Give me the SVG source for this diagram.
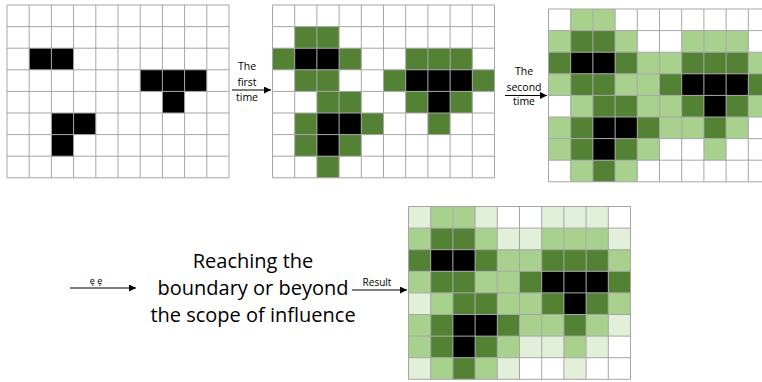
<svg xmlns="http://www.w3.org/2000/svg" width="762" height="382" viewBox="0 0 762 382">
<style>
.b{fill:#000}
.d{fill:#548235}
.l{fill:#a9d18e}
.v{fill:#e2efd9}
.grid{fill:none;stroke:#a6a6a6;stroke-width:1}
.bg{fill:#fff}
.lbl{font-family:"Open Sans","Liberation Sans",sans-serif;font-size:10.5px;fill:#000;text-anchor:middle}
.big{font-family:"Open Sans","Liberation Sans",sans-serif;font-size:20px;fill:#000;text-anchor:middle}
.con{stroke:#000;stroke-width:1.2;fill:none;marker-end:url(#ah)}
</style>
<defs>
<marker id="ah" viewBox="0 0 10 10" refX="10" refY="5" markerWidth="7" markerHeight="7" orient="auto" markerUnits="userSpaceOnUse">
<path d="M0,0 L10,5 L0,10 z" fill="#000"/>
</marker>
<path id="gl" d="M0,0H222M0,21.6H222M0,43.2H222M0,64.8H222M0,86.4H222M0,108H222M0,129.6H222M0,151.2H222M0,172.8H222M0,0V172.8M22.2,0V172.8M44.4,0V172.8M66.6,0V172.8M88.8,0V172.8M111,0V172.8M133.2,0V172.8M155.4,0V172.8M177.6,0V172.8M199.8,0V172.8M222,0V172.8"/>
</defs>
<rect width="762" height="382" fill="#fff"/>

<g id="grid1" transform="translate(7,5)">
<rect class="bg" width="222" height="172.8"/>
<rect class="b" x="22.2" y="43.2" width="22.2" height="21.6"/>
<rect class="b" x="44.4" y="43.2" width="22.2" height="21.6"/>
<rect class="b" x="133.2" y="64.8" width="22.2" height="21.6"/>
<rect class="b" x="155.4" y="64.8" width="22.2" height="21.6"/>
<rect class="b" x="177.6" y="64.8" width="22.2" height="21.6"/>
<rect class="b" x="155.4" y="86.4" width="22.2" height="21.6"/>
<rect class="b" x="44.4" y="108" width="22.2" height="21.6"/>
<rect class="b" x="66.6" y="108" width="22.2" height="21.6"/>
<rect class="b" x="44.4" y="129.6" width="22.2" height="21.6"/>
<use href="#gl" class="grid"/>
</g>

<g id="grid2" transform="translate(272.5,5)">
<rect class="bg" width="222" height="172.8"/>
<rect class="d" x="22.2" y="21.6" width="22.2" height="21.6"/>
<rect class="d" x="44.4" y="21.6" width="22.2" height="21.6"/>
<rect class="d" x="0" y="43.2" width="22.2" height="21.6"/>
<rect class="b" x="22.2" y="43.2" width="22.2" height="21.6"/>
<rect class="b" x="44.4" y="43.2" width="22.2" height="21.6"/>
<rect class="d" x="66.6" y="43.2" width="22.2" height="21.6"/>
<rect class="d" x="133.2" y="43.2" width="22.2" height="21.6"/>
<rect class="d" x="155.4" y="43.2" width="22.2" height="21.6"/>
<rect class="d" x="177.6" y="43.2" width="22.2" height="21.6"/>
<rect class="d" x="22.2" y="64.8" width="22.2" height="21.6"/>
<rect class="d" x="44.4" y="64.8" width="22.2" height="21.6"/>
<rect class="d" x="111" y="64.8" width="22.2" height="21.6"/>
<rect class="b" x="133.2" y="64.8" width="22.2" height="21.6"/>
<rect class="b" x="155.4" y="64.8" width="22.2" height="21.6"/>
<rect class="b" x="177.6" y="64.8" width="22.2" height="21.6"/>
<rect class="d" x="199.8" y="64.8" width="22.2" height="21.6"/>
<rect class="d" x="44.4" y="86.4" width="22.2" height="21.6"/>
<rect class="d" x="66.6" y="86.4" width="22.2" height="21.6"/>
<rect class="d" x="133.2" y="86.4" width="22.2" height="21.6"/>
<rect class="b" x="155.4" y="86.4" width="22.2" height="21.6"/>
<rect class="d" x="177.6" y="86.4" width="22.2" height="21.6"/>
<rect class="d" x="22.2" y="108" width="22.2" height="21.6"/>
<rect class="b" x="44.4" y="108" width="22.2" height="21.6"/>
<rect class="b" x="66.6" y="108" width="22.2" height="21.6"/>
<rect class="d" x="88.8" y="108" width="22.2" height="21.6"/>
<rect class="d" x="155.4" y="108" width="22.2" height="21.6"/>
<rect class="d" x="22.2" y="129.6" width="22.2" height="21.6"/>
<rect class="b" x="44.4" y="129.6" width="22.2" height="21.6"/>
<rect class="d" x="66.6" y="129.6" width="22.2" height="21.6"/>
<rect class="d" x="44.4" y="151.2" width="22.2" height="21.6"/>
<use href="#gl" class="grid"/>
</g>

<g id="grid3" transform="translate(548.5,9)">
<rect class="bg" width="222" height="172.8"/>
<rect class="l" x="22.2" y="0" width="22.2" height="21.6"/>
<rect class="l" x="44.4" y="0" width="22.2" height="21.6"/>
<rect class="l" x="0" y="21.6" width="22.2" height="21.6"/>
<rect class="d" x="22.2" y="21.6" width="22.2" height="21.6"/>
<rect class="d" x="44.4" y="21.6" width="22.2" height="21.6"/>
<rect class="l" x="66.6" y="21.6" width="22.2" height="21.6"/>
<rect class="l" x="133.2" y="21.6" width="22.2" height="21.6"/>
<rect class="l" x="155.4" y="21.6" width="22.2" height="21.6"/>
<rect class="l" x="177.6" y="21.6" width="22.2" height="21.6"/>
<rect class="d" x="0" y="43.2" width="22.2" height="21.6"/>
<rect class="b" x="22.2" y="43.2" width="22.2" height="21.6"/>
<rect class="b" x="44.4" y="43.2" width="22.2" height="21.6"/>
<rect class="d" x="66.6" y="43.2" width="22.2" height="21.6"/>
<rect class="l" x="88.8" y="43.2" width="22.2" height="21.6"/>
<rect class="l" x="111" y="43.2" width="22.2" height="21.6"/>
<rect class="d" x="133.2" y="43.2" width="22.2" height="21.6"/>
<rect class="d" x="155.4" y="43.2" width="22.2" height="21.6"/>
<rect class="d" x="177.6" y="43.2" width="22.2" height="21.6"/>
<rect class="l" x="199.8" y="43.2" width="22.2" height="21.6"/>
<rect class="l" x="0" y="64.8" width="22.2" height="21.6"/>
<rect class="d" x="22.2" y="64.8" width="22.2" height="21.6"/>
<rect class="d" x="44.4" y="64.8" width="22.2" height="21.6"/>
<rect class="l" x="66.6" y="64.8" width="22.2" height="21.6"/>
<rect class="l" x="88.8" y="64.8" width="22.2" height="21.6"/>
<rect class="d" x="111" y="64.8" width="22.2" height="21.6"/>
<rect class="b" x="133.2" y="64.8" width="22.2" height="21.6"/>
<rect class="b" x="155.4" y="64.8" width="22.2" height="21.6"/>
<rect class="b" x="177.6" y="64.8" width="22.2" height="21.6"/>
<rect class="d" x="199.8" y="64.8" width="22.2" height="21.6"/>
<rect class="l" x="22.2" y="86.4" width="22.2" height="21.6"/>
<rect class="d" x="44.4" y="86.4" width="22.2" height="21.6"/>
<rect class="d" x="66.6" y="86.4" width="22.2" height="21.6"/>
<rect class="l" x="88.8" y="86.4" width="22.2" height="21.6"/>
<rect class="l" x="111" y="86.4" width="22.2" height="21.6"/>
<rect class="d" x="133.2" y="86.4" width="22.2" height="21.6"/>
<rect class="b" x="155.4" y="86.4" width="22.2" height="21.6"/>
<rect class="d" x="177.6" y="86.4" width="22.2" height="21.6"/>
<rect class="l" x="199.8" y="86.4" width="22.2" height="21.6"/>
<rect class="l" x="0" y="108" width="22.2" height="21.6"/>
<rect class="d" x="22.2" y="108" width="22.2" height="21.6"/>
<rect class="b" x="44.4" y="108" width="22.2" height="21.6"/>
<rect class="b" x="66.6" y="108" width="22.2" height="21.6"/>
<rect class="d" x="88.8" y="108" width="22.2" height="21.6"/>
<rect class="l" x="111" y="108" width="22.2" height="21.6"/>
<rect class="l" x="133.2" y="108" width="22.2" height="21.6"/>
<rect class="d" x="155.4" y="108" width="22.2" height="21.6"/>
<rect class="l" x="177.6" y="108" width="22.2" height="21.6"/>
<rect class="l" x="0" y="129.6" width="22.2" height="21.6"/>
<rect class="d" x="22.2" y="129.6" width="22.2" height="21.6"/>
<rect class="b" x="44.4" y="129.6" width="22.2" height="21.6"/>
<rect class="d" x="66.6" y="129.6" width="22.2" height="21.6"/>
<rect class="l" x="88.8" y="129.6" width="22.2" height="21.6"/>
<rect class="l" x="155.4" y="129.6" width="22.2" height="21.6"/>
<rect class="l" x="22.2" y="151.2" width="22.2" height="21.6"/>
<rect class="d" x="44.4" y="151.2" width="22.2" height="21.6"/>
<rect class="l" x="66.6" y="151.2" width="22.2" height="21.6"/>
<use href="#gl" class="grid"/>
</g>

<g id="grid4" transform="translate(408.5,206.5)">
<rect class="bg" width="222" height="172.8"/>
<rect class="v" x="0" y="0" width="22.2" height="21.6"/>
<rect class="l" x="22.2" y="0" width="22.2" height="21.6"/>
<rect class="l" x="44.4" y="0" width="22.2" height="21.6"/>
<rect class="v" x="66.6" y="0" width="22.2" height="21.6"/>
<rect class="v" x="133.2" y="0" width="22.2" height="21.6"/>
<rect class="v" x="155.4" y="0" width="22.2" height="21.6"/>
<rect class="v" x="177.6" y="0" width="22.2" height="21.6"/>
<rect class="l" x="0" y="21.6" width="22.2" height="21.6"/>
<rect class="d" x="22.2" y="21.6" width="22.2" height="21.6"/>
<rect class="d" x="44.4" y="21.6" width="22.2" height="21.6"/>
<rect class="l" x="66.6" y="21.6" width="22.2" height="21.6"/>
<rect class="v" x="88.8" y="21.6" width="22.2" height="21.6"/>
<rect class="v" x="111" y="21.6" width="22.2" height="21.6"/>
<rect class="l" x="133.2" y="21.6" width="22.2" height="21.6"/>
<rect class="l" x="155.4" y="21.6" width="22.2" height="21.6"/>
<rect class="l" x="177.6" y="21.6" width="22.2" height="21.6"/>
<rect class="v" x="199.8" y="21.6" width="22.2" height="21.6"/>
<rect class="d" x="0" y="43.2" width="22.2" height="21.6"/>
<rect class="b" x="22.2" y="43.2" width="22.2" height="21.6"/>
<rect class="b" x="44.4" y="43.2" width="22.2" height="21.6"/>
<rect class="d" x="66.6" y="43.2" width="22.2" height="21.6"/>
<rect class="l" x="88.8" y="43.2" width="22.2" height="21.6"/>
<rect class="l" x="111" y="43.2" width="22.2" height="21.6"/>
<rect class="d" x="133.2" y="43.2" width="22.2" height="21.6"/>
<rect class="d" x="155.4" y="43.2" width="22.2" height="21.6"/>
<rect class="d" x="177.6" y="43.2" width="22.2" height="21.6"/>
<rect class="l" x="199.8" y="43.2" width="22.2" height="21.6"/>
<rect class="l" x="0" y="64.8" width="22.2" height="21.6"/>
<rect class="d" x="22.2" y="64.8" width="22.2" height="21.6"/>
<rect class="d" x="44.4" y="64.8" width="22.2" height="21.6"/>
<rect class="l" x="66.6" y="64.8" width="22.2" height="21.6"/>
<rect class="l" x="88.8" y="64.8" width="22.2" height="21.6"/>
<rect class="d" x="111" y="64.8" width="22.2" height="21.6"/>
<rect class="b" x="133.2" y="64.8" width="22.2" height="21.6"/>
<rect class="b" x="155.4" y="64.8" width="22.2" height="21.6"/>
<rect class="b" x="177.6" y="64.8" width="22.2" height="21.6"/>
<rect class="d" x="199.8" y="64.8" width="22.2" height="21.6"/>
<rect class="v" x="0" y="86.4" width="22.2" height="21.6"/>
<rect class="l" x="22.2" y="86.4" width="22.2" height="21.6"/>
<rect class="d" x="44.4" y="86.4" width="22.2" height="21.6"/>
<rect class="d" x="66.6" y="86.4" width="22.2" height="21.6"/>
<rect class="l" x="88.8" y="86.4" width="22.2" height="21.6"/>
<rect class="l" x="111" y="86.4" width="22.2" height="21.6"/>
<rect class="d" x="133.2" y="86.4" width="22.2" height="21.6"/>
<rect class="b" x="155.4" y="86.4" width="22.2" height="21.6"/>
<rect class="d" x="177.6" y="86.4" width="22.2" height="21.6"/>
<rect class="l" x="199.8" y="86.4" width="22.2" height="21.6"/>
<rect class="l" x="0" y="108" width="22.2" height="21.6"/>
<rect class="d" x="22.2" y="108" width="22.2" height="21.6"/>
<rect class="b" x="44.4" y="108" width="22.2" height="21.6"/>
<rect class="b" x="66.6" y="108" width="22.2" height="21.6"/>
<rect class="d" x="88.8" y="108" width="22.2" height="21.6"/>
<rect class="l" x="111" y="108" width="22.2" height="21.6"/>
<rect class="l" x="133.2" y="108" width="22.2" height="21.6"/>
<rect class="d" x="155.4" y="108" width="22.2" height="21.6"/>
<rect class="l" x="177.6" y="108" width="22.2" height="21.6"/>
<rect class="v" x="199.8" y="108" width="22.2" height="21.6"/>
<rect class="l" x="0" y="129.6" width="22.2" height="21.6"/>
<rect class="d" x="22.2" y="129.6" width="22.2" height="21.6"/>
<rect class="b" x="44.4" y="129.6" width="22.2" height="21.6"/>
<rect class="d" x="66.6" y="129.6" width="22.2" height="21.6"/>
<rect class="l" x="88.8" y="129.6" width="22.2" height="21.6"/>
<rect class="v" x="111" y="129.6" width="22.2" height="21.6"/>
<rect class="v" x="133.2" y="129.6" width="22.2" height="21.6"/>
<rect class="l" x="155.4" y="129.6" width="22.2" height="21.6"/>
<rect class="v" x="177.6" y="129.6" width="22.2" height="21.6"/>
<rect class="v" x="0" y="151.2" width="22.2" height="21.6"/>
<rect class="l" x="22.2" y="151.2" width="22.2" height="21.6"/>
<rect class="d" x="44.4" y="151.2" width="22.2" height="21.6"/>
<rect class="l" x="66.6" y="151.2" width="22.2" height="21.6"/>
<rect class="v" x="88.8" y="151.2" width="22.2" height="21.6"/>
<rect class="v" x="155.4" y="151.2" width="22.2" height="21.6"/>
<use href="#gl" class="grid"/>
</g>

<g id="condition">
<text class="big" x="253" y="268">Reaching the</text>
<text class="big" x="253" y="295">boundary or beyond</text>
<text class="big" x="253" y="322">the scope of influence</text>
</g>

<g id="connectors">
<path class="con" d="M232,90 H271"/>
<path class="con" d="M505,95.5 H547"/>
<path class="con" d="M70,288 H136"/>
<path class="con" d="M352,290 H407"/>
</g>

<g id="labels">
<text class="lbl" x="247" y="70">The</text>
<text class="lbl" x="247" y="86">first</text>
<text class="lbl" x="247" y="101">time</text>
<text class="lbl" x="524" y="75">The</text>
<text class="lbl" x="524" y="90.5">second</text>
<text class="lbl" x="524" y="105">time</text>
<text class="lbl" x="96" y="284" style="font-size:9px">ȩ ȩ</text>
<text class="lbl" x="377" y="286" style="font-size:10px">Result</text>
</g>
</svg>
